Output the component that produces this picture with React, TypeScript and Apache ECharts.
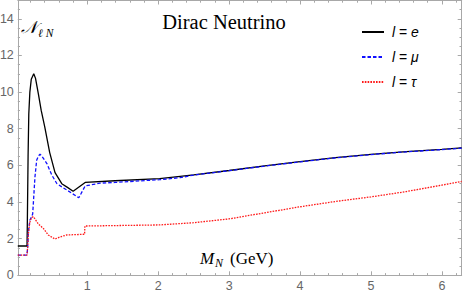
import React, { useEffect, useRef } from "react";
import * as echarts from "echarts";

// l = e (black, solid)
const eX = [0.02, 0.15, 0.155, 0.165, 0.175, 0.19, 0.21, 0.245, 0.27, 0.31, 0.35, 0.4, 0.47, 0.545, 0.64, 0.72, 0.8, 0.97, 1.39, 2.02, 2.31, 2.5, 3.0, 3.5, 4.0, 4.5, 5.0, 5.5, 6.0, 6.28];
const eY = [1.6, 1.6, 3.0, 6.5, 8.8, 10.0, 10.7, 11.0, 10.75, 9.9, 9.0, 8.1, 6.7, 5.6, 5.0, 4.8, 4.59, 5.07, 5.16, 5.28, 5.4, 5.48, 5.72, 5.97, 6.2, 6.42, 6.6, 6.75, 6.87, 6.95];

// l = mu (blue, dashed)
const mX = [0.02, 0.15, 0.16, 0.17, 0.19, 0.215, 0.23, 0.262, 0.286, 0.31, 0.333, 0.36, 0.43, 0.5, 0.57, 0.65, 0.73, 0.88, 0.97, 1.18, 1.39, 2.02, 2.31, 2.5, 3.0, 3.5, 4.0, 4.5, 5.0, 5.5, 6.0, 6.28];
const mY = [1.1, 1.1, 1.6, 2.4, 3.0, 3.2, 3.35, 5.37, 6.28, 6.5, 6.61, 6.5, 6.1, 5.47, 5.01, 4.8, 4.61, 4.23, 4.88, 5.03, 5.07, 5.22, 5.33, 5.47, 5.71, 5.96, 6.19, 6.41, 6.59, 6.74, 6.86, 6.94];

// l = tau (red, dotted)
const tX = [0.02, 0.15, 0.16, 0.17, 0.19, 0.215, 0.24, 0.31, 0.38, 0.45, 0.544, 0.62, 0.71, 0.95, 0.962, 0.966, 1.5, 2.02, 2.5, 3.0, 3.5, 4.0, 4.5, 5.0, 5.5, 6.0, 6.28];
const tY = [1.1, 1.1, 1.6, 2.3, 2.9, 3.15, 3.2, 2.8, 2.56, 2.2, 1.98, 2.1, 2.2, 2.24, 2.24, 2.69, 2.72, 2.75, 2.87, 3.08, 3.41, 3.74, 4.03, 4.28, 4.57, 4.92, 5.12];

const X_LABELS = [1, 2, 3, 4, 5, 6];
const Y_LABELS = [0, 2, 4, 6, 8, 10, 12, 14];
const LEGEND_NAMES = ["e", "μ", "τ"];

const X_MIN = 0.02;
const X_MAX = 6.28;
const Y_MIN = 0;
const Y_MAX = 15;

const xMinor: number[] = [];
for (let i = 1; i <= 31; i++) {
  const v = Math.round(i * 0.2 * 10) / 10;
  if (Math.abs(v - Math.round(v)) > 1e-6 && v <= X_MAX) xMinor.push(v);
}
const yMinor: number[] = [];
for (let i = 1; i <= 29; i++) {
  const v = i * 0.5;
  if (v % 2 !== 0) yMinor.push(v);
}

const FRAME = "#a8a8a8";
const LABEL = "#666666";

const pairs = (xs: number[], ys: number[]) => xs.map((x, i) => [x, ys[i]]);

function axis(dim: "x" | "y", position: string, ticks: number[], len: number, line: boolean, labels?: number[]) {
  return {
    type: "value",
    position,
    min: dim === "x" ? X_MIN : Y_MIN,
    max: dim === "x" ? X_MAX : Y_MAX,
    axisLine: { show: line, onZero: false, lineStyle: { color: FRAME, width: 1 } },
    axisTick: { show: true, inside: true, length: len, customValues: ticks, lineStyle: { color: FRAME, width: 1 } },
    axisLabel: labels
      ? {
          show: true,
          customValues: labels,
          margin: 4,
          color: LABEL,
          fontSize: 12.5,
          fontFamily: "Liberation Sans, Arial, sans-serif",
          hideOverlap: false,
        }
      : { show: false },
    splitLine: { show: false },
    minorTick: { show: false },
  };
}

export default function App() {
  const ref = useRef<HTMLDivElement>(null);
  useEffect(() => {
    const chart = echarts.init(ref.current!, null, { renderer: "svg" });
    const serif = "Liberation Serif, Times New Roman, serif";
    const option: any = {
      animation: false,
      backgroundColor: "#ffffff",
      grid: { left: 17.8, right: 1.3, top: 0.5, bottom: 17.7, containLabel: false, outerBoundsMode: "none" },
      xAxis: [
        axis("x", "bottom", X_LABELS, 4, true, X_LABELS),
        axis("x", "top", X_LABELS, 4, true),
        axis("x", "bottom", xMinor, 2.2, false),
        axis("x", "top", xMinor, 2.2, false),
      ],
      yAxis: [
        axis("y", "left", Y_LABELS, 4, true, Y_LABELS),
        axis("y", "right", Y_LABELS, 4, true),
        axis("y", "left", yMinor, 2.2, false),
        axis("y", "right", yMinor, 2.2, false),
      ],
      legend: {
        orient: "vertical",
        left: 361,
        top: 25,
        itemWidth: 22,
        itemHeight: 14,
        itemGap: 11,
        padding: 0,
        data: LEGEND_NAMES,
        itemStyle: { opacity: 0 },
        formatter: (name: string) => `{i|l} = {i|${name}}`,
        textStyle: {
          fontSize: 14,
          color: "#000",
          fontFamily: "Liberation Sans, Arial, sans-serif",
          padding: [0, 0, 0, 3],
          rich: { i: { fontStyle: "italic", fontSize: 14, fontFamily: "Liberation Sans, Arial, sans-serif" } },
        },
      },
      series: [
        {
          name: LEGEND_NAMES[0],
          type: "line",
          data: pairs(eX, eY),
          symbol: "none",
          showSymbol: false,
          color: "#000000",
          lineStyle: { color: "#000000", width: 1.3 },
          xAxisIndex: 0,
          yAxisIndex: 0,
        },
        {
          name: LEGEND_NAMES[1],
          type: "line",
          data: pairs(mX, mY),
          symbol: "none",
          showSymbol: false,
          color: "#1010ff",
          lineStyle: { color: "#1010ff", width: 1.3, type: [3.5, 2] },
          xAxisIndex: 0,
          yAxisIndex: 0,
        },
        {
          name: LEGEND_NAMES[2],
          type: "line",
          data: pairs(tX, tY),
          symbol: "none",
          showSymbol: false,
          color: "#ff1a1a",
          lineStyle: { color: "#ff1a1a", width: 1.3, type: [1.6, 1.2] },
          xAxisIndex: 0,
          yAxisIndex: 0,
        },
      ],
      graphic: [
        {
          type: "text",
          x: 224,
          y: 22.4,
          style: { text: "Dirac Neutrino", font: `20.5px ${serif}`, fill: "#000", align: "center", verticalAlign: "middle" },
        },
        {
          type: "text",
          x: 21,
          y: 27.6,
          style: { text: "𝒩", font: `italic 17px ${serif}`, fill: "#000", align: "left", verticalAlign: "middle" },
        },
        {
          type: "text",
          x: 38,
          y: 32.5,
          style: { text: "ℓ N", font: `italic 11.5px ${serif}`, fill: "#000", align: "left", verticalAlign: "middle" },
        },
        {
          type: "text",
          x: 200,
          y: 258.3,
          style: { text: "M", font: `italic 17px ${serif}`, fill: "#000", align: "left", verticalAlign: "middle" },
        },
        {
          type: "text",
          x: 215,
          y: 262.5,
          style: { text: "N", font: `italic 12px ${serif}`, fill: "#000", align: "left", verticalAlign: "middle" },
        },
        {
          type: "text",
          x: 230,
          y: 258.3,
          style: { text: "(GeV)", font: `17px ${serif}`, fill: "#000", align: "left", verticalAlign: "middle" },
        },
      ],
    };
    chart.setOption(option);
    return () => chart.dispose();
  }, []);
  return <div ref={ref} style={{ position: "fixed", left: 0, top: 0, width: 463, height: 293 }} />;
}
